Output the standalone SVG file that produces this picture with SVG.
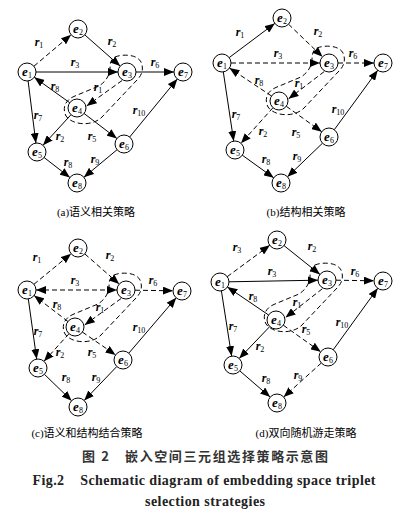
<svg xmlns="http://www.w3.org/2000/svg" xmlns:xlink="http://www.w3.org/1999/xlink" width="410" height="516" viewBox="0 0 410 516">
<style>
.bg{fill:#fff}
.s{stroke:#000;stroke-width:1;fill:none;marker-end:url(#ah)}
.d{stroke:#000;stroke-width:1;fill:none;stroke-dasharray:5 3;marker-end:url(#ah)}
.bi{marker-start:url(#ahs)}
.loop{stroke:#000;stroke-width:1;fill:none;stroke-dasharray:5 3}
.nc{fill:#fff;stroke:#000;stroke-width:1}
.nt{font-family:"Liberation Serif",serif;font-style:italic;font-weight:bold;font-size:13px;text-anchor:middle}
.lb{font-family:"Liberation Serif",serif;font-style:italic;font-weight:bold;font-size:12px;text-anchor:middle}
.sub{font-style:normal;font-weight:normal;font-size:8px}
.cap{font-family:"Liberation Serif","Noto Sans CJK SC",serif;font-size:11px;text-anchor:middle}
.t1{font-family:"Noto Sans CJK SC",sans-serif;font-size:13px;fill:#333;text-anchor:middle;font-weight:bold}
.t2{font-family:"Liberation Serif",serif;font-size:14px;font-weight:bold;fill:#222;text-anchor:middle}
</style>
<defs>
<marker id="ah" markerUnits="userSpaceOnUse" markerWidth="10" markerHeight="8" refX="10" refY="4" orient="auto"><path d="M0,0 L10,4 L0,8 z" fill="#000"/></marker>
<marker id="ahs" markerUnits="userSpaceOnUse" markerWidth="10" markerHeight="8" refX="10" refY="4" orient="auto-start-reverse"><path d="M0,0 L10,4 L0,8 z" fill="#000"/></marker>
<path id="loop" d="M-12,-15 C-5,-18 10,-18 14,-10 C17,-3 15,3 10,8 L-25,45 C-35,55 -55,53 -61,44 C-65,36 -62,28 -52,24 L-28,14 C-22,10 -18,5 -17,-3 C-17,-9 -16,-13 -12,-15 Z"/>
</defs>
<rect class="bg" x="0" y="0" width="410" height="516"/>

<g id="connectors">
<!-- panel a -->
<use href="#loop" class="loop" transform="translate(127,72)"/>
<line class="d" x1="33.9" y1="66.2" x2="71.1" y2="34.8"/>
<line class="s" x1="84.8" y1="34.9" x2="120.2" y2="66.1"/>
<line class="s" x1="36" y1="72" x2="118" y2="72"/>
<line class="s" x1="136" y1="72" x2="174" y2="72"/>
<line class="s" x1="69.7" y1="102.7" x2="34.3" y2="77.3"/>
<line class="d" x1="122.1" y1="80.5" x2="86.7" y2="105.9"/>
<line class="s" x1="28.1" y1="80.9" x2="35.9" y2="143.1"/>
<line class="s" x1="71" y1="114.7" x2="43" y2="145.3"/>
<line class="s" x1="84.1" y1="113.5" x2="116.9" y2="138.5"/>
<line class="s" x1="129.7" y1="137" x2="177.3" y2="79"/>
<line class="s" x1="117.1" y1="149.7" x2="83.9" y2="177.3"/>
<line class="s" x1="44.1" y1="157.5" x2="69.9" y2="177.5"/>
<!-- panel b -->
<use href="#loop" class="loop" transform="translate(329,63)"/>
<line class="s" x1="229.2" y1="57.6" x2="274.8" y2="23.4"/>
<line class="d" x1="288.5" y1="24.2" x2="322.5" y2="56.8"/>
<line class="d" x1="231" y1="63" x2="320" y2="63"/>
<line class="d" x1="338" y1="63" x2="374" y2="63"/>
<line class="d" x1="271.5" y1="96" x2="229.5" y2="68"/>
<line class="d" x1="324.2" y1="71.6" x2="288.6" y2="98.8"/>
<line class="s" x1="223.3" y1="71.9" x2="233.7" y2="141.1"/>
<line class="d" x1="273" y1="107.7" x2="241" y2="143.3"/>
<line class="d" x1="286.3" y1="106.3" x2="321.7" y2="131.7"/>
<line class="s" x1="334.3" y1="129.7" x2="377.7" y2="70.3"/>
<line class="s" x1="322.5" y1="143.2" x2="287.5" y2="176.8"/>
<line class="s" x1="242.3" y1="155.2" x2="273.7" y2="177.8"/>
<!-- panel c -->
<use href="#loop" class="loop" transform="translate(126,290)"/>
<line class="d" x1="33.9" y1="284.3" x2="71.1" y2="253.7"/>
<line class="d" x1="84.8" y1="253.9" x2="119.2" y2="284.1"/>
<line class="d bi" x1="36" y1="290" x2="117" y2="290"/>
<line class="d" x1="135" y1="290.2" x2="173" y2="290.8"/>
<line class="d" x1="67.9" y1="321.5" x2="34.1" y2="295.5"/>
<line class="d" x1="121.1" y1="298.5" x2="84.7" y2="324.9"/>
<line class="s" x1="28.3" y1="298.9" x2="36.7" y2="359.1"/>
<line class="d" x1="69" y1="333.7" x2="44" y2="361.3"/>
<line class="d" x1="82.4" y1="332.1" x2="115.6" y2="354.9"/>
<line class="s" x1="128.8" y1="353.2" x2="176.2" y2="297.8"/>
<line class="s" x1="116.8" y1="366.5" x2="84.2" y2="400.5"/>
<line class="s" x1="44.4" y1="374.3" x2="71.6" y2="400.7"/>
<!-- panel d -->
<use href="#loop" class="loop" transform="translate(327,280)"/>
<line class="d" x1="227.2" y1="276.7" x2="269.8" y2="245.3"/>
<line class="s" x1="284" y1="245.6" x2="320" y2="274.4"/>
<line class="s" x1="229" y1="281.8" x2="318" y2="280.2"/>
<line class="d" x1="336" y1="280.2" x2="374" y2="280.8"/>
<line class="s" x1="268.6" y1="315" x2="227.4" y2="287"/>
<line class="d" x1="322.3" y1="288.8" x2="285.5" y2="317.6"/>
<line class="s" x1="221.4" y1="290.9" x2="231.6" y2="356.1"/>
<line class="s" x1="269.8" y1="326.5" x2="239.2" y2="358.5"/>
<line class="d" x1="283.3" y1="325.2" x2="320.7" y2="351.8"/>
<line class="s" x1="333.3" y1="349.7" x2="377.7" y2="288.3"/>
<line class="d" x1="321.3" y1="363" x2="283.7" y2="397"/>
<line class="s" x1="239.8" y1="370.9" x2="270.2" y2="397.1"/>
</g>

<g id="edge-labels">
<!-- a -->
<text class="lb" x="39" y="46">r<tspan class="sub" dy="2">1</tspan></text>
<text class="lb" x="112" y="45">r<tspan class="sub" dy="2">2</tspan></text>
<text class="lb" x="75" y="66">r<tspan class="sub" dy="2">3</tspan></text>
<text class="lb" x="155" y="66">r<tspan class="sub" dy="2">6</tspan></text>
<text class="lb" x="55" y="90">r<tspan class="sub" dy="2">8</tspan></text>
<text class="lb" x="98" y="91">r<tspan class="sub" dy="2">1</tspan></text>
<text class="lb" x="38" y="119">r<tspan class="sub" dy="2">7</tspan></text>
<text class="lb" x="139" y="114">r<tspan class="sub" dy="2">10</tspan></text>
<text class="lb" x="60" y="140">r<tspan class="sub" dy="2">2</tspan></text>
<text class="lb" x="92" y="140">r<tspan class="sub" dy="2">5</tspan></text>
<text class="lb" x="95" y="163">r<tspan class="sub" dy="2">9</tspan></text>
<text class="lb" x="68" y="166">r<tspan class="sub" dy="2">8</tspan></text>
<!-- b -->
<text class="lb" x="240" y="36">r<tspan class="sub" dy="2">1</tspan></text>
<text class="lb" x="318" y="35">r<tspan class="sub" dy="2">2</tspan></text>
<text class="lb" x="278" y="57">r<tspan class="sub" dy="2">3</tspan></text>
<text class="lb" x="353" y="57">r<tspan class="sub" dy="2">6</tspan></text>
<text class="lb" x="259" y="84">r<tspan class="sub" dy="2">8</tspan></text>
<text class="lb" x="299" y="87">r<tspan class="sub" dy="2">1</tspan></text>
<text class="lb" x="236" y="118">r<tspan class="sub" dy="2">7</tspan></text>
<text class="lb" x="338" y="113">r<tspan class="sub" dy="2">10</tspan></text>
<text class="lb" x="263" y="135">r<tspan class="sub" dy="2">2</tspan></text>
<text class="lb" x="296" y="136">r<tspan class="sub" dy="2">5</tspan></text>
<text class="lb" x="297" y="160">r<tspan class="sub" dy="2">9</tspan></text>
<text class="lb" x="266" y="163">r<tspan class="sub" dy="2">8</tspan></text>
<!-- c -->
<text class="lb" x="37" y="261">r<tspan class="sub" dy="2">1</tspan></text>
<text class="lb" x="110" y="259">r<tspan class="sub" dy="2">2</tspan></text>
<text class="lb" x="75" y="284">r<tspan class="sub" dy="2">3</tspan></text>
<text class="lb" x="153" y="284">r<tspan class="sub" dy="2">6</tspan></text>
<text class="lb" x="57" y="308">r<tspan class="sub" dy="2">8</tspan></text>
<text class="lb" x="100" y="311">r<tspan class="sub" dy="2">1</tspan></text>
<text class="lb" x="38" y="335">r<tspan class="sub" dy="2">7</tspan></text>
<text class="lb" x="139" y="331">r<tspan class="sub" dy="2">10</tspan></text>
<text class="lb" x="60" y="356">r<tspan class="sub" dy="2">2</tspan></text>
<text class="lb" x="92" y="356">r<tspan class="sub" dy="2">5</tspan></text>
<text class="lb" x="96" y="381">r<tspan class="sub" dy="2">9</tspan></text>
<text class="lb" x="66" y="381">r<tspan class="sub" dy="2">8</tspan></text>
<!-- d -->
<text class="lb" x="237" y="251">r<tspan class="sub" dy="2">3</tspan></text>
<text class="lb" x="312" y="250">r<tspan class="sub" dy="2">2</tspan></text>
<text class="lb" x="272" y="275">r<tspan class="sub" dy="2">3</tspan></text>
<text class="lb" x="355" y="275">r<tspan class="sub" dy="2">6</tspan></text>
<text class="lb" x="253" y="300">r<tspan class="sub" dy="2">8</tspan></text>
<text class="lb" x="297" y="306">r<tspan class="sub" dy="2">1</tspan></text>
<text class="lb" x="233" y="330">r<tspan class="sub" dy="2">7</tspan></text>
<text class="lb" x="342" y="326">r<tspan class="sub" dy="2">10</tspan></text>
<text class="lb" x="260" y="350">r<tspan class="sub" dy="2">2</tspan></text>
<text class="lb" x="306" y="333">r<tspan class="sub" dy="2">5</tspan></text>
<text class="lb" x="298" y="379">r<tspan class="sub" dy="2">9</tspan></text>
<text class="lb" x="266" y="382">r<tspan class="sub" dy="2">8</tspan></text>
</g>

<!-- panel a nodes -->
<g id="a-e1"><circle class="nc" cx="27" cy="72" r="9"/><text class="nt" x="27" y="76">e<tspan class="sub" dy="2">1</tspan></text></g>
<g id="a-e2"><circle class="nc" cx="78" cy="29" r="9"/><text class="nt" x="78" y="33">e<tspan class="sub" dy="2">2</tspan></text></g>
<g id="a-e3"><circle class="nc" cx="127" cy="72" r="9"/><text class="nt" x="127" y="76">e<tspan class="sub" dy="2">3</tspan></text></g>
<g id="a-e4"><circle class="nc" cx="77" cy="108" r="9"/><text class="nt" x="77" y="112">e<tspan class="sub" dy="2">4</tspan></text></g>
<g id="a-e5"><circle class="nc" cx="37" cy="152" r="9"/><text class="nt" x="37" y="156">e<tspan class="sub" dy="2">5</tspan></text></g>
<g id="a-e6"><circle class="nc" cx="124" cy="144" r="9"/><text class="nt" x="124" y="148">e<tspan class="sub" dy="2">6</tspan></text></g>
<g id="a-e7"><circle class="nc" cx="183" cy="72" r="9"/><text class="nt" x="183" y="76">e<tspan class="sub" dy="2">7</tspan></text></g>
<g id="a-e8"><circle class="nc" cx="77" cy="183" r="9"/><text class="nt" x="77" y="187">e<tspan class="sub" dy="2">8</tspan></text></g>
<!-- panel b nodes -->
<g id="b-e1"><circle class="nc" cx="222" cy="63" r="9"/><text class="nt" x="222" y="67">e<tspan class="sub" dy="2">1</tspan></text></g>
<g id="b-e2"><circle class="nc" cx="282" cy="18" r="9"/><text class="nt" x="282" y="22">e<tspan class="sub" dy="2">2</tspan></text></g>
<g id="b-e3"><circle class="nc" cx="329" cy="63" r="9"/><text class="nt" x="329" y="67">e<tspan class="sub" dy="2">3</tspan></text></g>
<g id="b-e4"><circle class="nc" cx="279" cy="101" r="9"/><text class="nt" x="279" y="105">e<tspan class="sub" dy="2">4</tspan></text></g>
<g id="b-e5"><circle class="nc" cx="235" cy="150" r="9"/><text class="nt" x="235" y="154">e<tspan class="sub" dy="2">5</tspan></text></g>
<g id="b-e6"><circle class="nc" cx="329" cy="137" r="9"/><text class="nt" x="329" y="141">e<tspan class="sub" dy="2">6</tspan></text></g>
<g id="b-e7"><circle class="nc" cx="383" cy="63" r="9"/><text class="nt" x="383" y="67">e<tspan class="sub" dy="2">7</tspan></text></g>
<g id="b-e8"><circle class="nc" cx="281" cy="183" r="9"/><text class="nt" x="281" y="187">e<tspan class="sub" dy="2">8</tspan></text></g>
<!-- panel c nodes -->
<g id="c-e1"><circle class="nc" cx="27" cy="290" r="9"/><text class="nt" x="27" y="294">e<tspan class="sub" dy="2">1</tspan></text></g>
<g id="c-e2"><circle class="nc" cx="78" cy="248" r="9"/><text class="nt" x="78" y="252">e<tspan class="sub" dy="2">2</tspan></text></g>
<g id="c-e3"><circle class="nc" cx="126" cy="290" r="9"/><text class="nt" x="126" y="294">e<tspan class="sub" dy="2">3</tspan></text></g>
<g id="c-e4"><circle class="nc" cx="75" cy="327" r="9"/><text class="nt" x="75" y="331">e<tspan class="sub" dy="2">4</tspan></text></g>
<g id="c-e5"><circle class="nc" cx="38" cy="368" r="9"/><text class="nt" x="38" y="372">e<tspan class="sub" dy="2">5</tspan></text></g>
<g id="c-e6"><circle class="nc" cx="123" cy="360" r="9"/><text class="nt" x="123" y="364">e<tspan class="sub" dy="2">6</tspan></text></g>
<g id="c-e7"><circle class="nc" cx="182" cy="291" r="9"/><text class="nt" x="182" y="295">e<tspan class="sub" dy="2">7</tspan></text></g>
<g id="c-e8"><circle class="nc" cx="78" cy="407" r="9"/><text class="nt" x="78" y="411">e<tspan class="sub" dy="2">8</tspan></text></g>
<!-- panel d nodes -->
<g id="d-e1"><circle class="nc" cx="220" cy="282" r="9"/><text class="nt" x="220" y="286">e<tspan class="sub" dy="2">1</tspan></text></g>
<g id="d-e2"><circle class="nc" cx="277" cy="240" r="9"/><text class="nt" x="277" y="244">e<tspan class="sub" dy="2">2</tspan></text></g>
<g id="d-e3"><circle class="nc" cx="327" cy="280" r="9"/><text class="nt" x="327" y="284">e<tspan class="sub" dy="2">3</tspan></text></g>
<g id="d-e4"><circle class="nc" cx="276" cy="320" r="9"/><text class="nt" x="276" y="324">e<tspan class="sub" dy="2">4</tspan></text></g>
<g id="d-e5"><circle class="nc" cx="233" cy="365" r="9"/><text class="nt" x="233" y="369">e<tspan class="sub" dy="2">5</tspan></text></g>
<g id="d-e6"><circle class="nc" cx="328" cy="357" r="9"/><text class="nt" x="328" y="361">e<tspan class="sub" dy="2">6</tspan></text></g>
<g id="d-e7"><circle class="nc" cx="383" cy="281" r="9"/><text class="nt" x="383" y="285">e<tspan class="sub" dy="2">7</tspan></text></g>
<g id="d-e8"><circle class="nc" cx="277" cy="403" r="9"/><text class="nt" x="277" y="407">e<tspan class="sub" dy="2">8</tspan></text></g>

<g id="captions">
<text class="cap" x="96" y="216">(a)语义相关策略</text>
<text class="cap" x="306" y="216">(b)结构相关策略</text>
<text class="cap" x="87" y="437">(c)语义和结构结合策略</text>
<text class="cap" x="306" y="437">(d)双向随机游走策略</text>
<text class="t1" x="205" y="461" textLength="246" lengthAdjust="spacing">图 2　嵌入空间三元组选择策略示意图</text>
<text class="t2" x="204" y="485" textLength="343" lengthAdjust="spacing" xml:space="preserve">Fig.2    Schematic diagram of embedding space triplet</text>
<text class="t2" x="205" y="506" textLength="120" lengthAdjust="spacing">selection strategies</text>
</g>
</svg>
